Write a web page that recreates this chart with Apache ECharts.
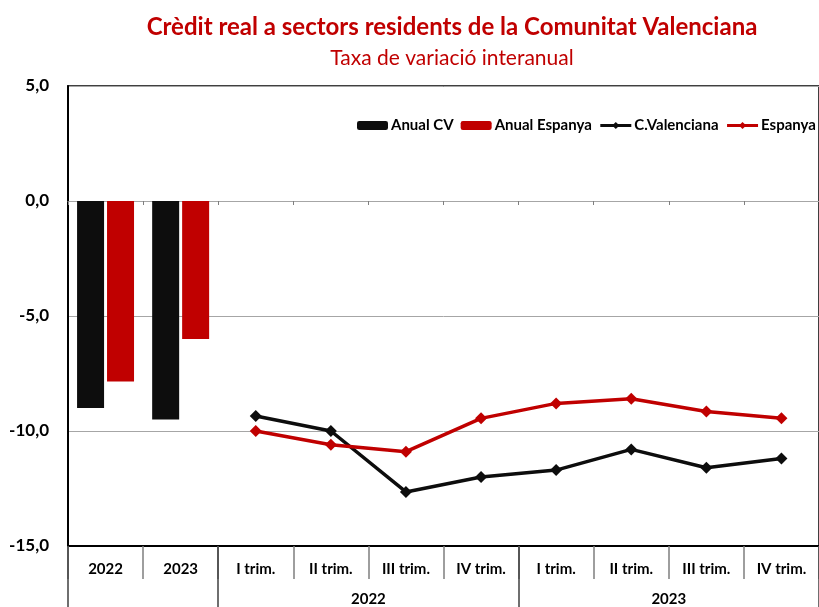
<!DOCTYPE html>
<html>
<head>
<meta charset="utf-8">
<script src="https://cdn.jsdelivr.net/npm/echarts@6/dist/echarts.min.js"></script>
<style>
  html, body { margin: 0; padding: 0; background: #fff; }
  #chart { width: 819px; height: 607px; }
</style>
</head>
<body>
<div id="chart"></div>
<script>
const categories = ['2022', '2023', 'I trim.', 'II trim.', 'III trim.', 'IV trim.', 'I trim.', 'II trim.', 'III trim.', 'IV trim.'];
const anualCV = [-9.0, -9.5, '-', '-', '-', '-', '-', '-', '-', '-'];
const anualEspanya = [-7.85, -6.0, '-', '-', '-', '-', '-', '-', '-', '-'];
const cValenciana = ['-', '-', -9.35, -10.0, -12.65, -12.0, -11.7, -10.8, -11.6, -11.2];
const espanya = ['-', '-', -10.0, -10.6, -10.9, -9.45, -8.8, -8.6, -9.15, -9.45];
const yearGroups = { 4: '2022', 8: '2023' };
const yearBounds = [0, 2, 6, 10];

const RED = '#c00000';
const BLACK = '#0d0d0d';
const FONT = 'Lato';

let chart = echarts.init(document.getElementById('chart'));
const option = {
  animation: false,
  textStyle: { fontFamily: FONT },
  title: [
    {
      text: 'Crèdit real a sectors residents de la Comunitat Valenciana',
      left: 447, top: 10, textAlign: 'center',
      textStyle: { color: RED, fontSize: 24, fontWeight: 'bold', fontFamily: FONT }
    },
    {
      text: 'Taxa de variació interanual',
      left: 447, top: 43, textAlign: 'center',
      textStyle: { color: RED, fontSize: 21, fontWeight: 'normal', fontFamily: FONT }
    }
  ],
  legend: {
    left: 352, top: 113, width: 560,
    itemWidth: 31, itemHeight: 9, itemGap: 7,
    lineStyle: { width: 3 },
    textStyle: { fontSize: 15, fontWeight: 'bold', color: '#000', fontFamily: FONT, padding: [0, 0, 0, -2] },
    data: ['Anual CV', 'Anual Espanya', 'C.Valenciana', 'Espanya']
  },
  grid: {
    left: 68, top: 86, width: 754, height: 461,
    show: true, borderColor: '#000', borderWidth: 1.5, backgroundColor: 'transparent'
  },
  xAxis: [
    {
      type: 'category', data: categories, position: 'bottom',
      axisLine: { onZero: false, lineStyle: { color: '#000', width: 2 } },
      axisTick: { show: true, interval: 0, length: 33, lineStyle: { color: '#7f7f7f', width: 1.5 } },
      axisLabel: { interval: 0, margin: 16, fontSize: 15, fontWeight: 'bold', color: '#000', fontFamily: FONT }
    },
    {
      type: 'category', data: categories, position: 'bottom',
      axisLine: { onZero: true, lineStyle: { color: '#a6a6a6', width: 1 } },
      axisTick: { show: true, interval: 0, length: 4, lineStyle: { color: '#7f7f7f' } },
      axisLabel: { show: false }
    },
    {
      type: 'value', min: 0, max: 10, position: 'bottom',
      axisLine: { show: false },
      splitLine: { show: false },
      axisTick: { show: true, length: 62, customValues: yearBounds, lineStyle: { color: '#404040', width: 1.5 } },
      axisLabel: {
        customValues: [4, 8], margin: 46, fontSize: 15, fontWeight: 'bold', color: '#000', fontFamily: FONT,
        formatter: v => yearGroups[v] || ''
      }
    }
  ],
  yAxis: {
    type: 'value', min: -15, max: 5, interval: 5,
    axisLine: { show: true, lineStyle: { color: '#000', width: 2 } },
    axisTick: { show: false },
    splitLine: { lineStyle: { color: '#a6a6a6', width: 1 } },
    axisLabel: {
      margin: 19, fontSize: 17, fontWeight: 'bold', color: '#000', fontFamily: FONT,
      formatter: v => v.toFixed(1).replace('.', ',')
    }
  },
  series: [
    {
      name: 'Anual CV', type: 'bar', data: anualCV, barWidth: 27, barGap: '11%',
      itemStyle: { color: BLACK }
    },
    {
      name: 'Anual Espanya', type: 'bar', data: anualEspanya, barWidth: 27, barGap: '11%',
      itemStyle: { color: RED }
    },
    {
      name: 'C.Valenciana', type: 'line', data: cValenciana,
      symbol: 'diamond', symbolSize: 12, color: BLACK,
      lineStyle: { color: BLACK, width: 3.5 }, itemStyle: { color: BLACK }
    },
    {
      name: 'Espanya', type: 'line', data: espanya,
      symbol: 'diamond', symbolSize: 12, color: RED,
      lineStyle: { color: RED, width: 3.5 }, itemStyle: { color: RED }
    }
  ]
};
chart.setOption(option);
</script>
</body>
</html>
